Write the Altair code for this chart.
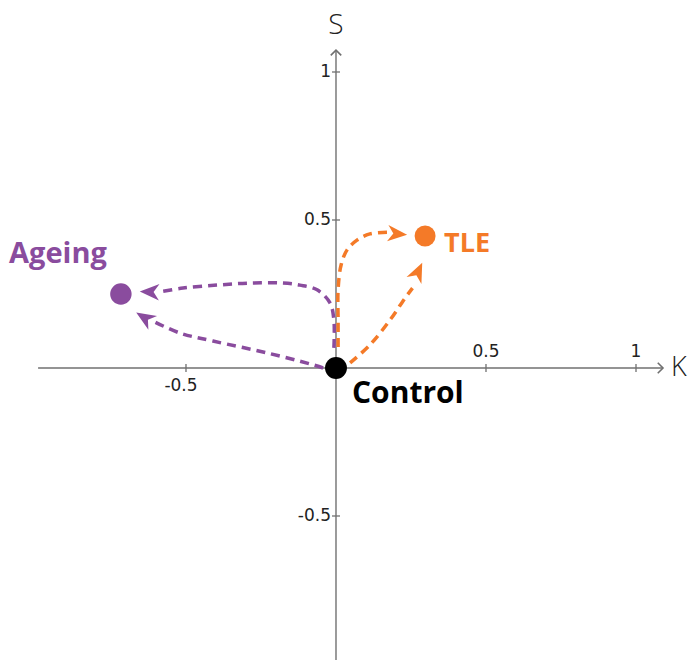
import altair as alt
import pandas as pd

# ---- data ----
groups = ["Control", "Ageing", "TLE"]
group_k = [0.0, -0.717, 0.297]
group_s = [0.0, 0.25, 0.446]
group_colors = ["#000000", "#8a4c9e", "#f47a28"]

paths = ["ageing_upper", "ageing_lower", "tle_upper", "tle_lower"]
path_colors = ["#8a4c9e", "#8a4c9e", "#f47a28", "#f47a28"]
ageing_upper_k = [-0.007, -0.007, -0.02, -0.063, -0.12, -0.177, -0.287, -0.397, -0.51, -0.587]
ageing_upper_s = [0.068, 0.162, 0.22, 0.264, 0.28, 0.287, 0.287, 0.28, 0.27, 0.257]
ageing_lower_k = [-0.043, -0.087, -0.23, -0.41, -0.52, -0.603]
ageing_lower_s = [0.0, 0.014, 0.051, 0.091, 0.118, 0.155]
tle_upper_k = [0.007, 0.007, 0.007, 0.017, 0.037, 0.07, 0.113, 0.17]
tle_upper_s = [0.071, 0.162, 0.264, 0.348, 0.399, 0.432, 0.453, 0.459]
tle_lower_k = [0.047, 0.113, 0.18, 0.23, 0.255]
tle_lower_s = [0.017, 0.078, 0.162, 0.236, 0.27]

arrow_k = [-0.62, -0.637, 0.203, 0.273]
arrow_s = [0.257, 0.169, 0.453, 0.324]
arrow_angle = [272, 302, 95, 25]

x_ticks = [-0.5, 0.5, 1]
y_ticks = [1, 0.5, -0.5]

# ---- scales ----
XMIN, XMAX = -1.0933, 1.18
YMIN, YMAX = -0.9865, 1.2162
X_AXIS = (-0.993, 1.09)
Y_AXIS = (YMIN, 1.074)

xs = alt.Scale(domain=[XMIN, XMAX], nice=False, zero=False)
ys = alt.Scale(domain=[YMIN, YMAX], nice=False, zero=False)
AX = "#707070"

def X(f="x"):
    return alt.X(f"{f}:Q", scale=xs, axis=None)

def Y(f="y"):
    return alt.Y(f"{f}:Q", scale=ys, axis=None)

# axis lines
xline = alt.Chart(pd.DataFrame({"x": [X_AXIS[0]], "x2": [X_AXIS[1]], "y": [0.0]})).mark_rule(
    color=AX, strokeWidth=1.4).encode(x=X(), x2="x2:Q", y=Y())
yline = alt.Chart(pd.DataFrame({"x": [0.0], "y": [Y_AXIS[0]], "y2": [Y_AXIS[1]]})).mark_rule(
    color=AX, strokeWidth=1.4).encode(x=X(), y=Y(), y2="y2:Q")

xarrow = alt.Chart(pd.DataFrame({"x": [X_AXIS[1]], "y": [0.0]})).mark_point(
    shape="M-1,-1L0,0L-1,1", filled=False, stroke=AX, strokeWidth=1.6, size=110, opacity=1
).encode(x=X(), y=Y())
yarrow = alt.Chart(pd.DataFrame({"x": [0.0], "y": [Y_AXIS[1]]})).mark_point(
    shape="M-1,1L0,0L1,1", filled=False, stroke=AX, strokeWidth=1.6, size=110, opacity=1
).encode(x=X(), y=Y())

xt_df = pd.DataFrame({"x": x_ticks, "y": [0.0] * len(x_ticks),
                      "label": [("%g" % v) for v in x_ticks]})
yt_df = pd.DataFrame({"x": [0.0] * len(y_ticks), "y": y_ticks,
                      "label": [("%g" % v) for v in y_ticks]})

xticks = alt.Chart(xt_df).mark_point(shape="M0,-1L0,1", filled=False, stroke=AX,
                                     strokeWidth=1.3, size=64, opacity=1).encode(x=X(), y=Y())
yticks = alt.Chart(yt_df).mark_point(shape="M-1,0L1,0", filled=False, stroke=AX,
                                     strokeWidth=1.3, size=64, opacity=1).encode(x=X(), y=Y())

TF = "DejaVu Sans"
TS = 17
xlab_pos = alt.Chart(xt_df).transform_filter("datum.x > 0").mark_text(
    font=TF, fontSize=TS, color="#222", align="center", baseline="middle", dy=-16
).encode(x=X(), y=Y(), text="label:N")
xlab_neg = alt.Chart(xt_df).transform_filter("datum.x < 0").mark_text(
    font=TF, fontSize=TS, color="#222", align="center", baseline="middle", dy=18, dx=-5
).encode(x=X(), y=Y(), text="label:N")
ylab = alt.Chart(yt_df).mark_text(
    font=TF, fontSize=TS, color="#222", align="right", baseline="middle", dx=-5
).encode(x=X(), y=Y(), text="label:N")

stitle = alt.Chart(pd.DataFrame({"x": [0.0], "y": [Y_AXIS[1]], "t": ["S"]})).mark_text(
    font="Open Sans", fontSize=28, fontWeight=300, color="#222", align="center",
    baseline="alphabetic", dy=-16).encode(x=X(), y=Y(), text="t:N")
ktitle = alt.Chart(pd.DataFrame({"x": [X_AXIS[1]], "y": [0.0], "t": ["K"]})).mark_text(
    font="Open Sans", fontSize=27, fontWeight=300, color="#222", align="left",
    baseline="alphabetic", dx=8, dy=8).encode(x=X(), y=Y(), text="t:N")

# paths
rows = []
for name, ks, ss in [("ageing_upper", ageing_upper_k, ageing_upper_s),
                     ("ageing_lower", ageing_lower_k, ageing_lower_s),
                     ("tle_upper", tle_upper_k, tle_upper_s),
                     ("tle_lower", tle_lower_k, tle_lower_s)]:
    for i, (k, s) in enumerate(zip(ks, ss)):
        rows.append({"path": name, "i": i, "x": k, "y": s})
path_df = pd.DataFrame(rows)
cscale = alt.Scale(domain=paths, range=path_colors)

lines = alt.Chart(path_df).mark_line(
    strokeWidth=3.5, strokeDash=[9, 6], interpolate="catmull-rom", strokeCap="butt"
).encode(x=X(), y=Y(), order="i:Q", detail="path:N",
         color=alt.Color("path:N", scale=cscale, legend=None))

arrow_df = pd.DataFrame({"x": arrow_k, "y": arrow_s, "angle": arrow_angle, "path": paths})
arrows = alt.Chart(arrow_df).mark_point(
    shape="M0,-1L0.8,0.9L0,0.35L-0.8,0.9Z", filled=True, size=420, opacity=1, strokeWidth=0
).encode(x=X(), y=Y(), angle=alt.Angle("angle:Q", scale=None),
         color=alt.Color("path:N", scale=cscale, legend=None))

gdf = pd.DataFrame({"g": groups, "x": group_k, "y": group_s})
gscale = alt.Scale(domain=groups, range=group_colors)
dots = alt.Chart(gdf).mark_circle(opacity=1).encode(
    x=X(), y=Y(), color=alt.Color("g:N", scale=gscale, legend=None),
    size=alt.Size("g:N", scale=alt.Scale(domain=groups, range=[480, 440, 400]), legend=None))

LF = "Open Sans"
lab_control = alt.Chart(gdf).transform_filter("datum.g == 'Control'").mark_text(
    font=LF, fontSize=30, fontWeight="bold", color="#000", align="left",
    baseline="alphabetic", dx=16, dy=35).encode(x=X(), y=Y(), text="g:N")
lab_ageing = alt.Chart(gdf).transform_filter("datum.g == 'Ageing'").mark_text(
    font=LF, fontSize=29, fontWeight="bold", color="#8a4c9e", align="right",
    baseline="alphabetic", dx=-14, dy=-31).encode(x=X(), y=Y(), text="g:N")
lab_tle = alt.Chart(gdf).transform_filter("datum.g == 'TLE'").mark_text(
    font=LF, fontSize=27, fontWeight="bold", color="#f47a28", align="left",
    baseline="alphabetic", dx=19, dy=16).encode(x=X(), y=Y(), text="g:N")

chart = alt.layer(
    xline, yline, xarrow, yarrow, xticks, yticks, xlab_pos, xlab_neg, ylab, stitle, ktitle,
    lines, arrows, dots, lab_control, lab_ageing, lab_tle
).resolve_scale(color="independent", size="independent").properties(
    width=682, height=652, padding=0, autosize="none", background="white"
).configure_view(strokeWidth=0, stroke="transparent")

chart.save("out.html", embed_options={"renderer": "svg", "actions": False})
